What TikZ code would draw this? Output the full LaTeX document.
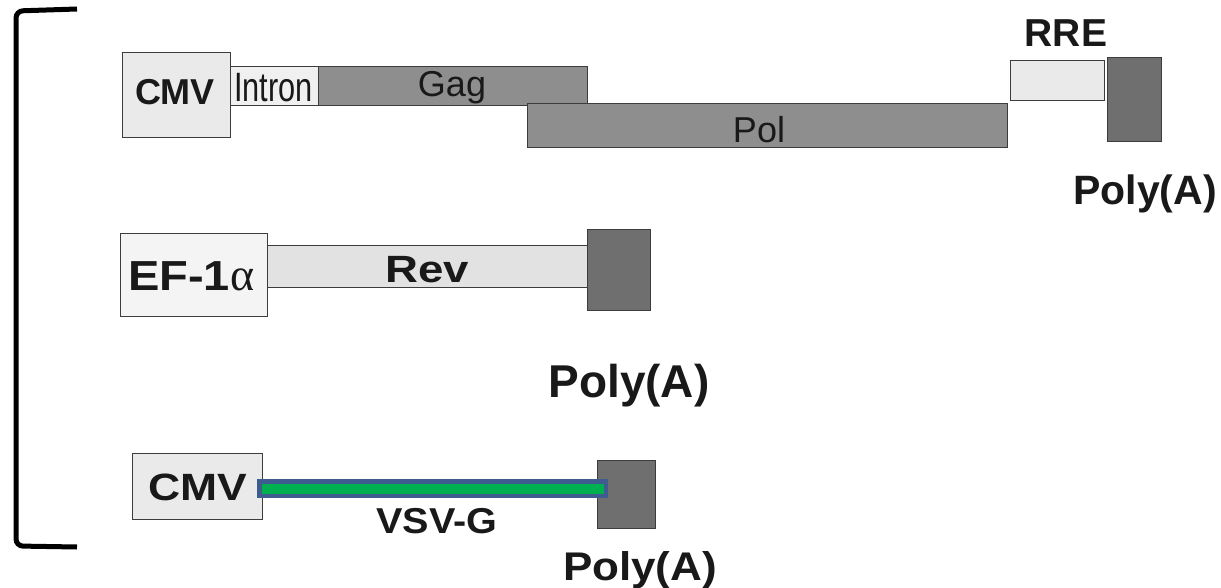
\documentclass[tikz,border=0pt]{standalone}
\usepackage{fontspec}
\setmainfont{Liberation Sans}
\newfontfamily\greekserif{Liberation Serif}
\newcommand\fsz[1]{\fontsize{#1}{#1}\selectfont}
\newcommand\wide[2]{\scalebox{#1}[1]{#2}}
\definecolor{lightfill}{HTML}{EAEAEA}
\definecolor{palefill}{HTML}{F4F4F4}
\definecolor{revfill}{HTML}{E2E2E2}
\definecolor{midgray}{HTML}{8E8E8E}
\definecolor{darkgray}{HTML}{6F6F6F}
\definecolor{edge}{HTML}{3C3C3C}
\definecolor{vsvgreen}{HTML}{00B050}
\definecolor{vsvblue}{HTML}{3E5C8E}
\tikzset{
  seg/.style={draw=edge, line width=1.3pt, inner sep=0pt, anchor=north west},
  light/.style={seg, fill=lightfill},
  mid/.style={seg, fill=midgray},
  dark/.style={seg, fill=darkgray},
  lbl/.style={inner sep=0pt, text=black!90},
}
\begin{document}
\begin{tikzpicture}[x=1pt, y=-1pt]
\useasboundingbox (0,0) rectangle (1221,588);

% enclosing bracket
\draw[line width=5pt, rounded corners=7pt] (77,9) -- (16,11) -- (16,546) -- (77,547);

% packaging construct
\node[light, minimum width=108, minimum height=85] (cmv1) at (122,52) {};
\node[lbl] at (175,92) {\fsz{36}\bfseries CMV};
\node[light, fill=lightfill!70!white, minimum width=88, minimum height=39] (intron) at (230,66) {};
\node[lbl] at (273.5,88) {\fsz{41}\wide{0.75}{Intron}};
\node[mid, minimum width=269, minimum height=39] (gag) at (318,66) {};
\node[lbl, anchor=base] at (452,97) {\fsz{36}Gag};
\node[mid, minimum width=480, minimum height=44] (pol) at (527,103) {};
\node[lbl, anchor=base] at (759,143) {\fsz{36}Pol};
\node[light, minimum width=94, minimum height=40] (rre) at (1010,60) {};
\node[dark, minimum width=54, minimum height=84] (pa1) at (1107,57) {};
\node[lbl, anchor=base] (rrel) at (1066,47) {\fsz{39}\bfseries RRE};
\node[lbl, anchor=base] (pa1l) at (1145,205) {\fsz{41}\bfseries Poly(A)};

% Rev construct
\node[light, fill=palefill, minimum width=147, minimum height=83] (ef) at (120,233) {};
\node[lbl, anchor=base west] at (128,290) {\fsz{42}\bfseries\wide{1.12}{EF-1}{\greekserif\fsz{46}\mdseries α}};
\node[light, fill=revfill, minimum width=320, minimum height=42] (rev) at (267,245) {};
\node[lbl, anchor=base] at (427,282) {\fsz{38}\bfseries\wide{1.2}{Rev}};
\node[dark, minimum width=63, minimum height=81] (pa2) at (587,229) {};
\node[lbl, anchor=base] (pa2l) at (629,397) {\fsz{46}\bfseries Poly(A)};

% envelope construct
\node[light, minimum width=130, minimum height=66] (cmv3) at (132,453) {};
\node[lbl, anchor=base] at (197.5,500) {\fsz{38}\bfseries\wide{1.17}{CMV}};
\node[dark, minimum width=58, minimum height=68] (pa3) at (597,460) {};
\node[draw=vsvblue, fill=vsvgreen, line width=4.5pt, inner sep=0pt, minimum width=346.5, minimum height=14.5, anchor=west] (vsv) at (257.25,488.5) {};
\node[lbl, anchor=base] (vsvl) at (437,533) {\fsz{36}\bfseries\wide{1.1}{VSV-G}};
\node[lbl, anchor=base] (pa3l) at (640,580) {\fsz{40}\bfseries\wide{1.1}{Poly(A)}};
\end{tikzpicture}
\end{document}
